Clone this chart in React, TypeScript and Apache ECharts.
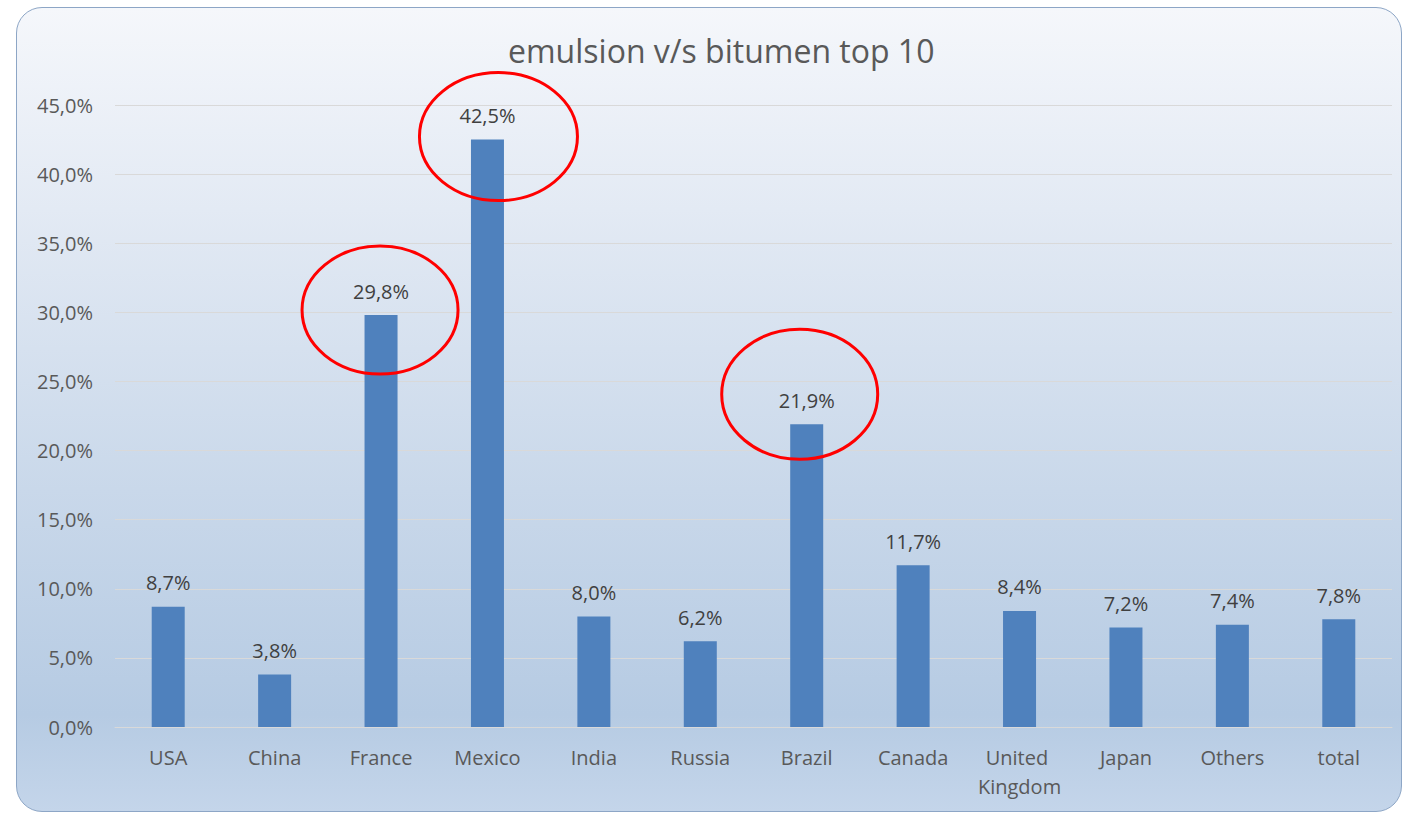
import React, { useEffect, useRef } from "react";
import * as echarts from "echarts";

const categories = ["USA", "China", "France", "Mexico", "India", "Russia", "Brazil", "Canada", "United Kingdom", "Japan", "Others", "total"];
const values = [8.7, 3.8, 29.8, 42.5, 8.0, 6.2, 21.9, 11.7, 8.4, 7.2, 7.4, 7.8];
const yTicks = [0, 5, 10, 15, 20, 25, 30, 35, 40, 45];
const titleText = "emulsion v/s bitumen top 10";

// highlighted categories (red circles), offsets relative to bar top in px
const highlights = [
  { category: "France", dx: -1, dy: -5, rx: 78, ry: 64 },
  { category: "Mexico", dx: 11, dy: -3, rx: 79, ry: 64 },
  { category: "Brazil", dx: -7, dy: -30, rx: 78, ry: 65 },
];

const FONT = "'Open Sans', sans-serif";
const fmt = (v: number) => v.toFixed(1).replace(".", ",") + "%";

export default function App() {
  const ref = useRef<HTMLDivElement>(null);
  useEffect(() => {
    if (!ref.current) return;
    const chart = echarts.init(ref.current, null, { renderer: "svg" });
    chart.setOption({
      animation: false,
      backgroundColor: "transparent",
      title: {
        text: titleText,
        left: 503,
        top: 29,
        textStyle: { fontFamily: FONT, fontSize: 32, fontWeight: "normal", color: "#595959" },
      },
      grid: { left: 115, right: 13, top: 105, bottom: 88 },
      xAxis: {
        type: "category",
        data: categories,
        axisLine: { lineStyle: { color: "#d9d9d9", width: 1 } },
        axisTick: { show: false },
        axisLabel: {
          fontFamily: FONT,
          fontSize: 20,
          color: "#595959",
          margin: 16,
          width: 100,
          overflow: "break",
          lineHeight: 29,
          interval: 0,
        },
      },
      yAxis: {
        type: "value",
        min: yTicks[0],
        max: yTicks[yTicks.length - 1],
        interval: 5,
        axisLine: { show: false },
        axisTick: { show: false },
        splitLine: { lineStyle: { color: "#d9d9d9", width: 1 } },
        axisLabel: {
          fontFamily: FONT,
          fontSize: 20,
          color: "#595959",
          margin: 22,
          formatter: (v: number) => fmt(v),
        },
      },
      series: [
        {
          type: "bar",
          data: values,
          barWidth: 33,
          itemStyle: { color: "#4f81bd" },
          label: {
            show: true,
            position: "top",
            distance: 14,
            fontFamily: FONT,
            fontSize: 20,
            color: "#404040",
            formatter: (p: any) => fmt(p.value),
          },
        },
      ],
    });
    const graphics = highlights.map((h) => {
      const idx = categories.indexOf(h.category);
      const pt = chart.convertToPixel({ seriesIndex: 0 }, [idx, values[idx]]) as number[];
      return {
        type: "ellipse",
        shape: { cx: pt[0] + h.dx, cy: pt[1] + h.dy, rx: h.rx, ry: h.ry },
        style: { fill: "none", stroke: "#ff0000", lineWidth: 3 },
        z: 100,
      };
    });
    chart.setOption({ graphic: graphics });
    return () => chart.dispose();
  }, []);

  return (
    <div style={{ position: "fixed", left: 0, top: 0, width: 1405, height: 815, background: "#ffffff", overflow: "hidden" }}>
      <div
        style={{
          position: "absolute",
          left: 16,
          top: 7,
          width: 1386,
          height: 805,
          boxSizing: "border-box",
          border: "1.5px solid #8da6c6",
          borderRadius: 26,
          background: "linear-gradient(to bottom, #f5f7fb 0%, #e3eaf4 25%, #c9d8ea 60%, #b6cbe3 88%, #c4d5ea 100%)",
        }}
      />
      <div ref={ref} style={{ position: "absolute", left: 0, top: 0, width: 1405, height: 815 }} />
    </div>
  );
}
